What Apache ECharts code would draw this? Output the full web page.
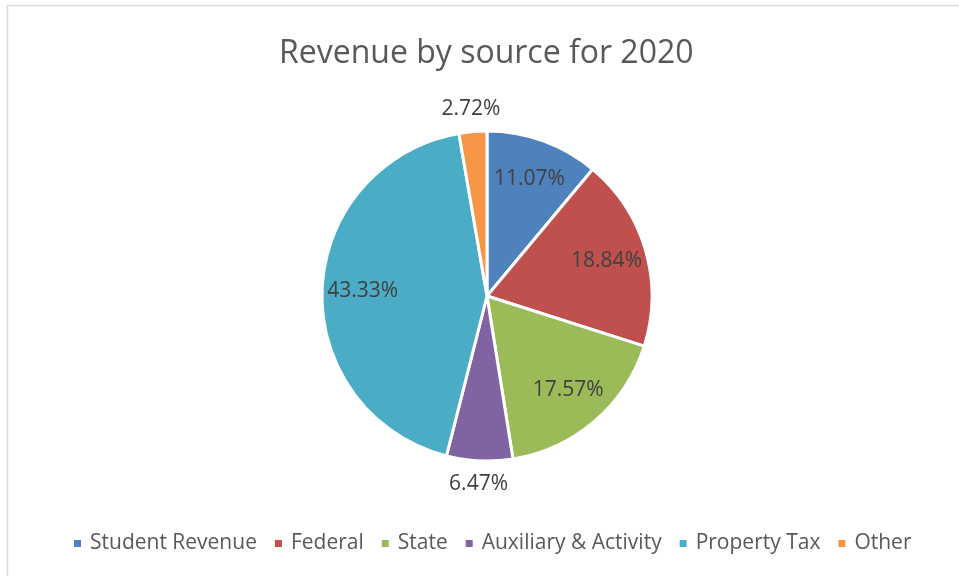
<!DOCTYPE html>
<html>
<head>
<meta charset="utf-8">
<script src="https://cdn.jsdelivr.net/npm/echarts@6/dist/echarts.min.js"></script>
<style>
  html, body { margin: 0; padding: 0; background: #fff; }
  #chart { width: 959px; height: 576px; }
</style>
</head>
<body>
<div id="chart"></div>
<script>
// 数据
var categories = ['Student Revenue', 'Federal', 'State', 'Auxiliary & Activity', 'Property Tax', 'Other'];
var shares = [11.07, 18.84, 17.57, 6.47, 43.33, 2.72];
var colors = ['#4F81BD', '#C0504D', '#9BBB59', '#8064A2', '#4BACC6', '#F79646'];

var font = 'Open Sans';
var center = [487, 296];
var R = 165;

function pct(p) { return p.value.toFixed(2) + '%'; }

var pieData = categories.map(function (name, i) {
    return { name: name, value: shares[i], itemStyle: { color: colors[i] } };
});

// 透明的环，只用来放标签
function labelRing(radius, pick) {
    return {
        type: 'pie',
        center: center,
        radius: radius,
        startAngle: 90,
        silent: true,
        itemStyle: { color: 'rgba(0,0,0,0)', borderWidth: 0 },
        emphasis: { disabled: true },
        labelLine: { show: false },
        data: categories.map(function (name, i) {
            return {
                name: name,
                value: shares[i],
                label: { show: pick(shares[i]) }
            };
        }),
        label: {
            position: 'inside',
            formatter: pct,
            color: '#404040',
            fontSize: 21,
            fontFamily: font
        }
    };
}

var myChart = echarts.init(document.getElementById('chart'));
myChart.setOption({
    animation: false,
    title: {
        text: 'Revenue by source for 2020',
        left: 274,
        top: 33,
        textStyle: { fontSize: 32, fontWeight: 'normal', color: '#595959', fontFamily: font }
    },
    legend: {
        bottom: 17,
        left: 67,
        icon: 'rect',
        itemWidth: 9,
        itemHeight: 9,
        itemGap: 16,
        data: categories,
        textStyle: { fontSize: 21, color: '#595959', fontFamily: font, padding: [0, 0, 0, 3] }
    },
    graphic: [{
        type: 'rect',
        shape: { x: 7.5, y: 5.5, width: 1000, height: 1000 },
        style: { fill: 'none', stroke: '#d9d9d9', lineWidth: 1.5 },
        silent: true
    }],
    series: [
        {
            name: 'Revenue',
            type: 'pie',
            center: center,
            radius: R,
            startAngle: 90,
            itemStyle: { borderColor: '#ffffff', borderWidth: 3 },
            label: { show: false },
            labelLine: { show: false },
            data: pieData
        },
        labelRing([78, R], function (v) { return v >= 8; }),
        labelRing([R, 205], function (v) { return v < 8; })
    ]
});
</script>
</body>
</html>
